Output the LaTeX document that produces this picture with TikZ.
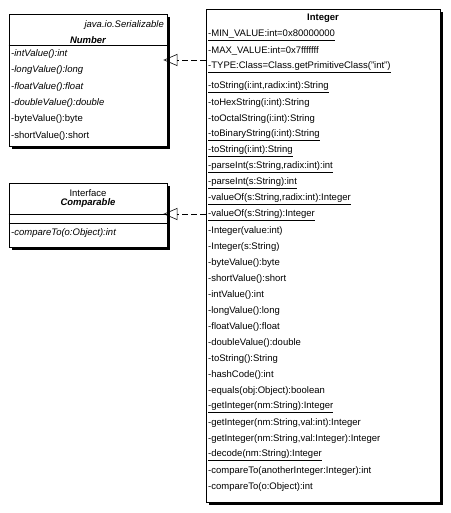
\documentclass[tikz,border=0pt]{standalone}
\usepackage{fontspec}
\setmainfont{Liberation Sans}
\usetikzlibrary{arrows.meta,positioning,shadows}

\begin{document}
\begin{tikzpicture}[x=1pt, y=-1pt,
    classbox/.style={rectangle, draw, line width=0.8pt, fill=white, inner sep=0pt,
        drop shadow={shadow xshift=3pt, shadow yshift=-3pt, fill=black, opacity=1}},
    member/.style={anchor=west, inner sep=0pt, font=\fontsize{9.5}{11}\selectfont},
    title/.style={inner sep=0pt, font=\fontsize{9.5}{11}\selectfont\bfseries},
    realize/.style={line width=0.6pt, dash pattern=on 6pt off 3pt, shorten >=-4pt,
        -{Triangle[open, length=14pt, width=12pt, line width=0.6pt]}}
]
\useasboundingbox (0,0) rectangle (450,513);

% class boxes
\node[classbox, minimum width=158pt, minimum height=132pt] (number) at (88,80) {};
\node[classbox, minimum width=158pt, minimum height=64pt] (comparable) at (88,215) {};
\node[classbox, minimum width=234pt, minimum height=493pt] (integer) at (323,255.5) {};

% compartments
\coordinate (nsep) at (0,45);
\coordinate (csep1) at (0,214);
\coordinate (csep2) at (0,223);
\draw[line width=0.8pt] (number.west |- nsep) -- (number.east |- nsep);
\draw[line width=0.8pt] (comparable.west |- csep1) -- (comparable.east |- csep1);
\draw[line width=0.8pt] (comparable.west |- csep2) -- (comparable.east |- csep2);

% Number
\node[member, anchor=east] (n0) at (164,25) {\itshape java.io.Serializable};
\node[title] (n1) at (88,40) {\itshape Number};
\node[member] (n2) at (11,54) {\itshape -intValue():int};
\node[member] (n3) at (11,70) {\itshape -longValue():long};
\node[member] (n4) at (11,87) {\itshape -floatValue():float};
\node[member] (n5) at (11,103) {\itshape -doubleValue():double};
\node[member] (n6) at (11,119) {-byteValue():byte};
\node[member] (n7) at (11,136) {-shortValue():short};

% Comparable
\node[member, anchor=center] (c0) at (88,193) {Interface};
\node[title] (c1) at (88,203) {\itshape Comparable};
\node[member] (c2) at (11,233) {\itshape -compareTo(o:Object):int};

% Integer
\node[title] (i0) at (323,18) {Integer};
\node[member] (i1) at (208,35) {\underline{-MIN\_VALUE:int=0x80000000}};
\node[member] (i2) at (208,51) {-MAX\_VALUE:int=0x7fffffff};
\node[member] (i3) at (208,67) {\underline{-TYPE:Class=Class.getPrimitiveClass("int")}};
\node[member] (i4) at (208,87) {\underline{-toString(i:int,radix:int):String}};
\node[member] (i5) at (208,103) {-toHexString(i:int):String};
\node[member] (i6) at (208,119) {-toOctalString(i:int):String};
\node[member] (i7) at (208,135) {\underline{-toBinaryString(i:int):String}};
\node[member] (i8) at (208,151) {\underline{-toString(i:int):String}};
\node[member] (i9) at (208,167) {\underline{-parseInt(s:String,radix:int):int}};
\node[member] (i10) at (208,183) {\underline{-parseInt(s:String):int}};
\node[member] (i11) at (208,199) {\underline{-valueOf(s:String,radix:int):Integer}};
\node[member] (i12) at (208,215) {\underline{-valueOf(s:String):Integer}};
\node[member] (i13) at (208,231) {-Integer(value:int)};
\node[member] (i14) at (208,247) {-Integer(s:String)};
\node[member] (i15) at (208,263) {-byteValue():byte};
\node[member] (i16) at (208,279) {-shortValue():short};
\node[member] (i17) at (208,295) {-intValue():int};
\node[member] (i18) at (208,311) {-longValue():long};
\node[member] (i19) at (208,327) {-floatValue():float};
\node[member] (i20) at (208,343) {-doubleValue():double};
\node[member] (i21) at (208,359) {-toString():String};
\node[member] (i22) at (208,375) {-hashCode():int};
\node[member] (i23) at (208,391) {-equals(obj:Object):boolean};
\node[member] (i24) at (208,407) {\underline{-getInteger(nm:String):Integer}};
\node[member] (i25) at (208,423) {-getInteger(nm:String,val:int):Integer};
\node[member] (i26) at (208,439) {-getInteger(nm:String,val:Integer):Integer};
\node[member] (i27) at (208,455) {\underline{-decode(nm:String):Integer}};
\node[member] (i28) at (208,471) {-compareTo(anotherInteger:Integer):int};
\node[member] (i29) at (208,487) {-compareTo(o:Object):int};

% realizations
\coordinate (rn) at (0,60);
\coordinate (rc) at (0,214);
\draw[realize] (integer.west |- rn) -- (number.east |- rn);
\draw[realize] (integer.west |- rc) -- (comparable.east |- rc);

\end{tikzpicture}
\end{document}
